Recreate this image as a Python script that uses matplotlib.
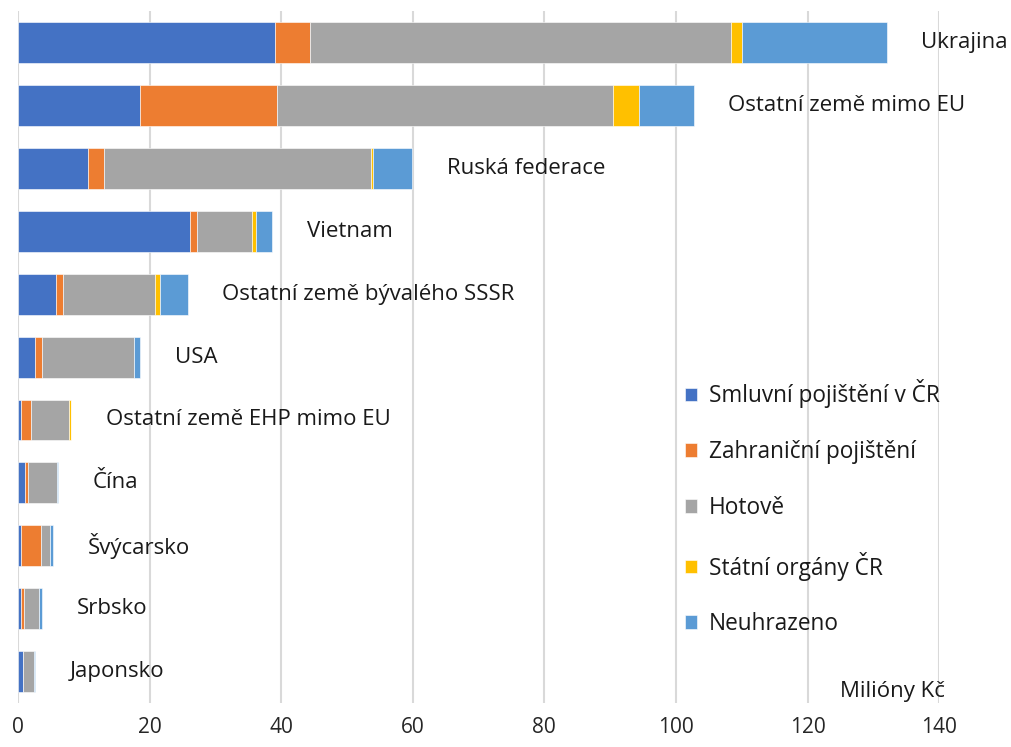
import numpy as np
import matplotlib.pyplot as plt

plt.rcParams['font.family'] = ['Open Sans', 'DejaVu Sans']

# Zeilen von oben nach unten
zeme = ['Ukrajina', 'Ostatní země mimo EU', 'Ruská federace', 'Vietnam',
        'Ostatní země bývalého SSSR', 'USA', 'Ostatní země EHP mimo EU',
        'Čína', 'Švýcarsko', 'Srbsko', 'Japonsko']

smluvni = [39.1, 18.5, 10.7, 26.1, 5.7, 2.6, 0.45, 1.1, 0.45, 0.45, 0.75]
zahranicni = [5.3, 20.9, 2.4, 1.1, 1.2, 1.1, 1.45, 0.4, 3.05, 0.5, 0.0]
hotove = [64.0, 51.1, 40.6, 8.3, 13.9, 13.9, 5.9, 4.4, 1.4, 2.25, 1.65]
statni = [1.7, 3.9, 0.3, 0.7, 0.8, 0.05, 0.2, 0.0, 0.0, 0.0, 0.0]
neuhrazeno = [21.9, 8.3, 5.9, 2.4, 4.2, 0.9, 0.1, 0.2, 0.4, 0.4, 0.2]

serie = ['Smluvní pojištění v ČR', 'Zahraniční pojištění', 'Hotově',
         'Státní orgány ČR', 'Neuhrazeno']
barvy = ['#4472C4', '#ED7D31', '#A5A5A5', '#FFC000', '#5B9BD5']

fig = plt.figure(figsize=(10.12, 7.47), dpi=100)
ax = fig.add_axes([0.0178, 0.059, 0.9102, 0.926])

y = np.arange(len(zeme))
left = np.zeros(len(zeme))
for hodnoty, nazev, barva in zip([smluvni, zahranicni, hotove, statni, neuhrazeno],
                                 serie, barvy):
    h = np.array(hodnoty)
    ax.barh(y, h, left=left, height=0.65, color=barva, label=nazev,
            edgecolor='white', linewidth=0.4)
    left += h

# popisky zemi vpravo od sloupcu
for i, z in enumerate(zeme):
    ax.annotate(z, (left[i], y[i]), xytext=(25, 0), textcoords='offset points',
                ha='left', va='center', fontsize=16, color='#1a1a1a')

ax.set_xlim(0, 140)
ax.set_ylim(10.5, -0.5)
ax.set_xticks(np.arange(0, 141, 20))
ax.set_yticks([])
ax.tick_params(axis='x', length=0, labelsize=15, pad=10, colors='#262626')
ax.xaxis.grid(True, color='#d9d9d9', linewidth=1.5)
ax.set_axisbelow(True)
for s in ax.spines.values():
    s.set_visible(False)

ax.text(1.006, 0.002, 'Milióny Kč', transform=ax.transAxes, ha='right',
        va='bottom', fontsize=16, color='#1a1a1a')

leg = ax.legend(loc='center left', bbox_to_anchor=(0.702, 0.282), frameon=False,
                fontsize=16.3, handlelength=0.55, handleheight=0.55,
                handletextpad=0.5, labelspacing=1.4)
for t in leg.get_texts():
    t.set_color('#1a1a1a')

fig.savefig('out.png', dpi=100)
